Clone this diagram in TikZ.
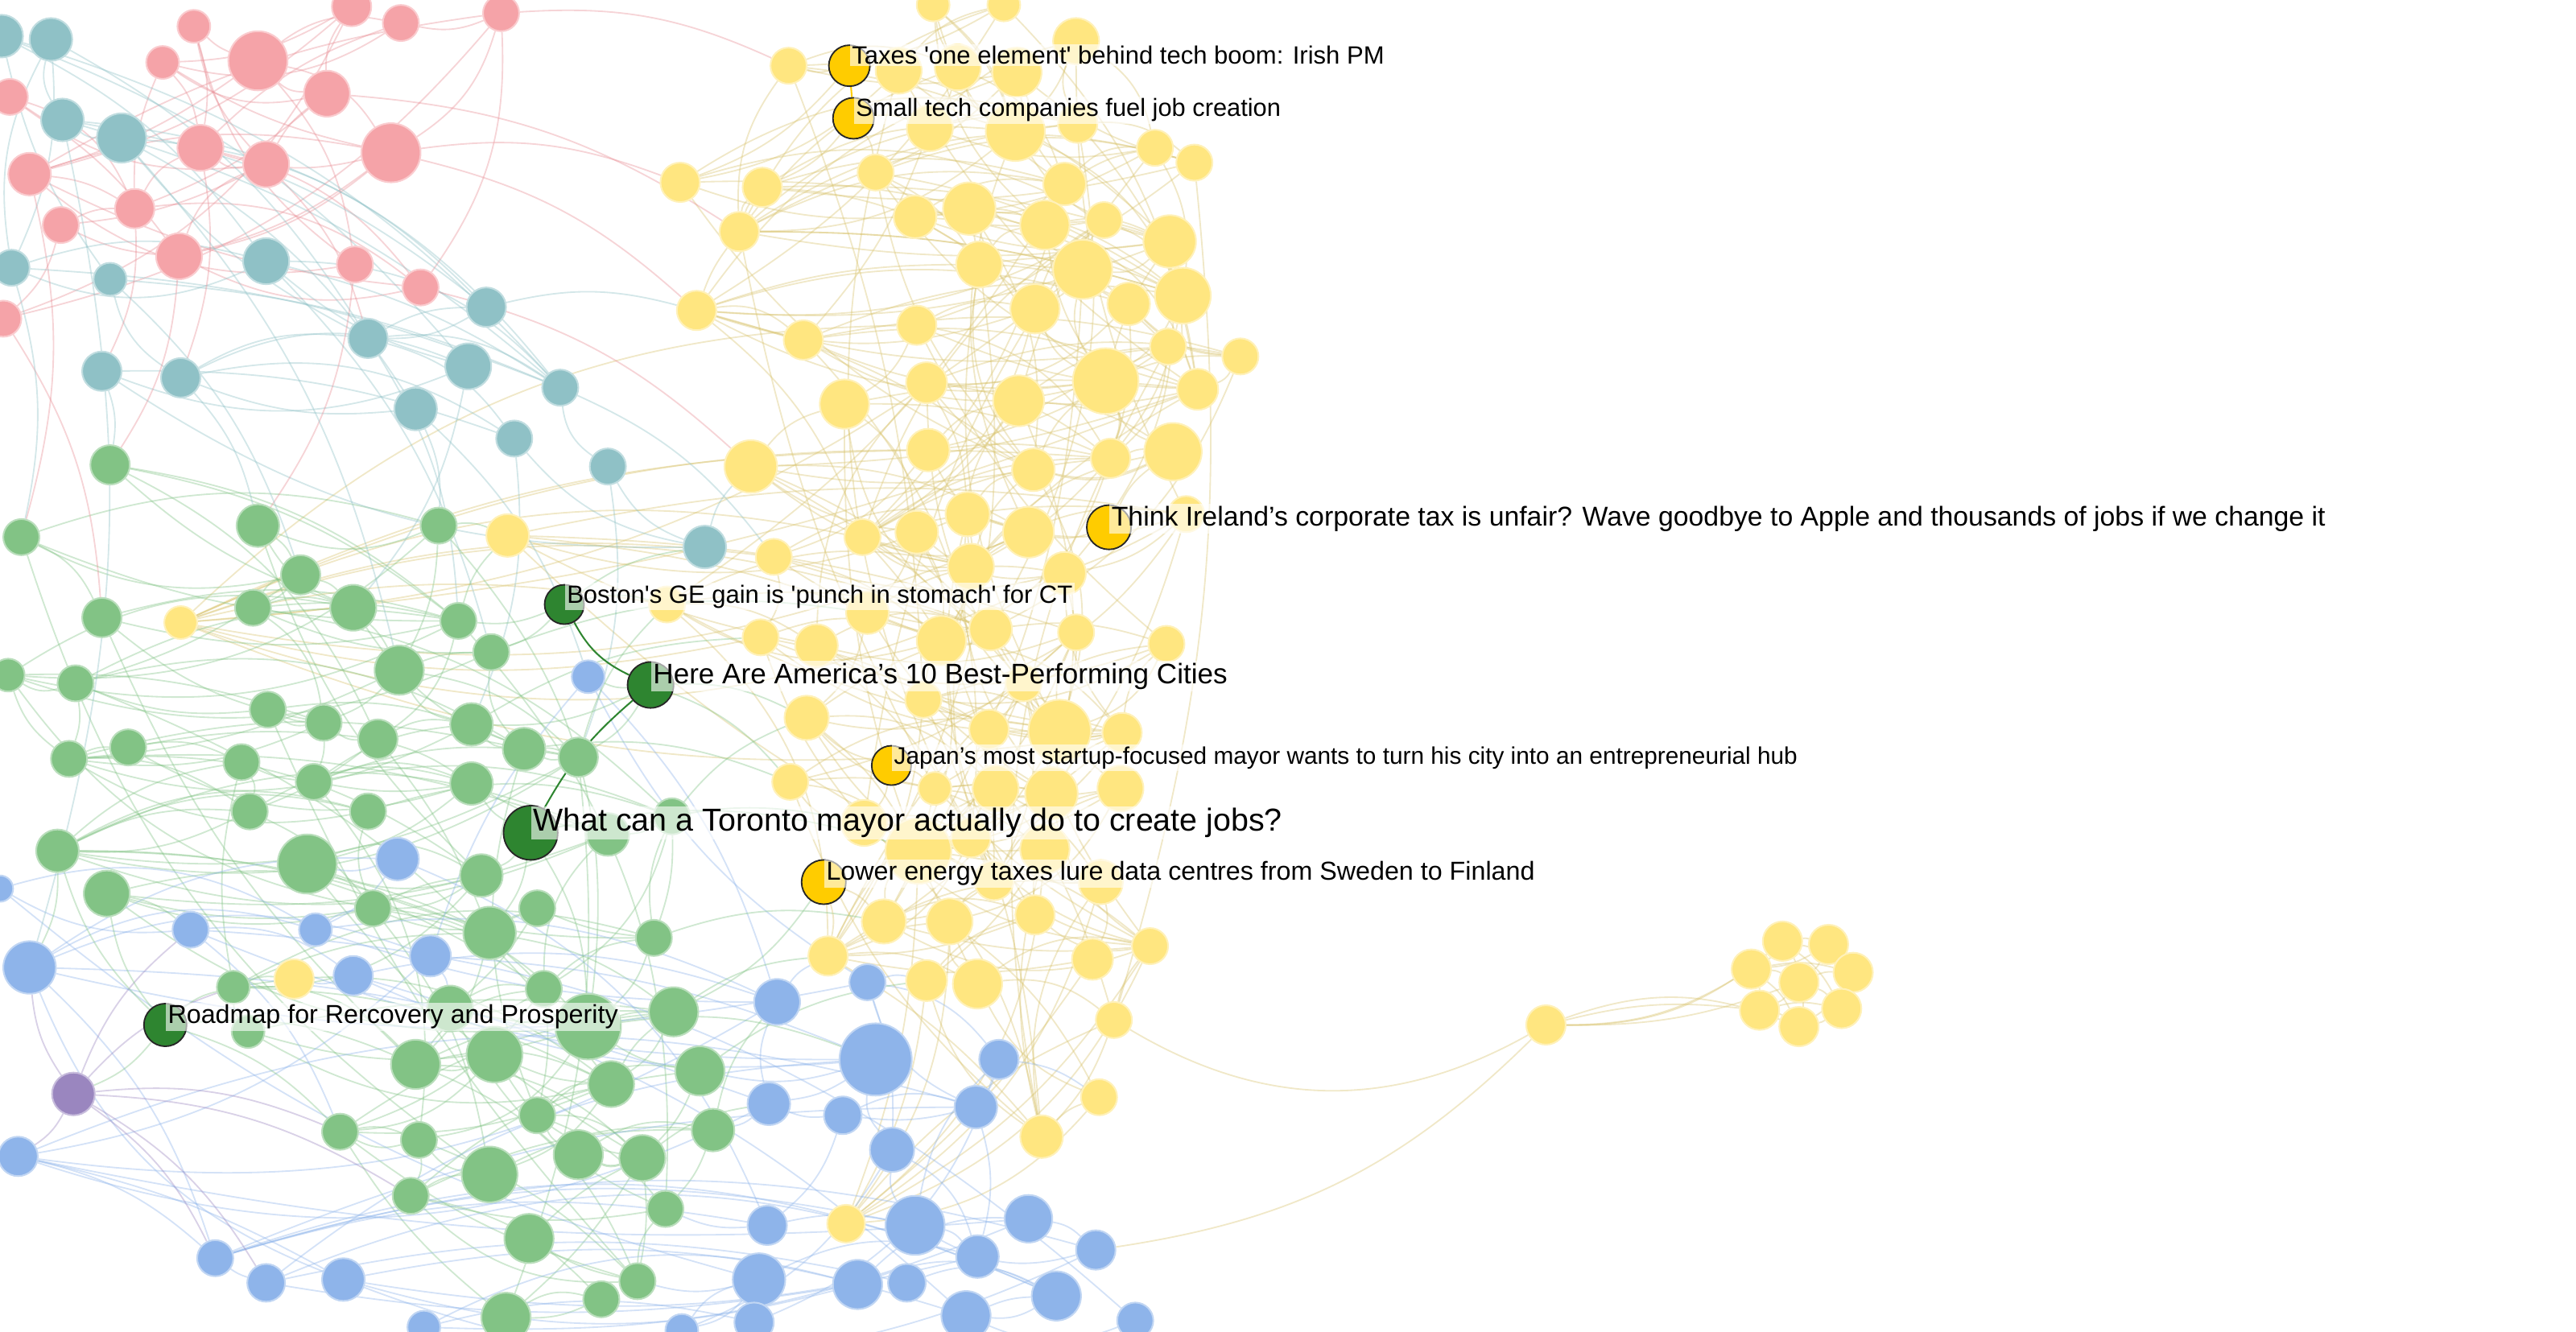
\documentclass[tikz,border=0pt]{standalone}
\usepackage{fontspec}
\setmainfont{Liberation Sans}[Ligatures=TeXOff]
\definecolor{pinkc}{HTML}{F5A3A8}
\definecolor{tealc}{HTML}{8FC1C6}
\definecolor{greenc}{HTML}{82C385}
\definecolor{bluec}{HTML}{8EB4EA}
\definecolor{yellowc}{HTML}{FFE680}
\definecolor{yedge}{HTML}{D8C36E}
\definecolor{pedge}{HTML}{E88E95}
\definecolor{purplec}{HTML}{9A86BF}
\definecolor{hgreen}{HTML}{2E8530}
\definecolor{hgold}{HTML}{FFCC00}
\pgfdeclarelayer{edgelayer}
\pgfdeclarelayer{labellayer}
\pgfsetlayers{edgelayer,main,labellayer}
\tikzset{
  nd/.style={circle, inner sep=0pt, fill=#1, draw=#1!55!white, line width=0.5pt},
  hl/.style={circle, inner sep=0pt, fill=#1, draw=black!85, line width=0.45pt},
  ed/.style={draw=#1, draw opacity=0.38, line width=0.45pt},
  hed/.style={draw=#1, line width=0.5pt},
  lab/.style={anchor=base west, yshift=0.5pt, fill=white, fill opacity=0.6, text opacity=1, inner sep=0.6pt, text=black},
}
\newcommand\cedges[6]{%
  \foreach \i in {1,...,#2}{%
    \pgfmathtruncatemacro\j{\i+1+mod(\i*#3+#4,#5)}%
    \pgfmathtruncatemacro\bb{(2*mod(\i+#4,2)-1)*(8+mod(\i*#3,17))}%
    \ifnum\j>#2\relax\else\draw[ed=#6] (#1\i) to[bend left=\bb] (#1\j);\fi}}
\begin{document}
\begin{tikzpicture}[x=0.5pt,y=-0.5pt]
\useasboundingbox (0,0) rectangle (1568,810.5);
% ---------------- pink cluster
\foreach \x/\y/\r [count=\n] in {118/16/10,214/4/12,244/14/11,305/8/11,99/38/10,157/37/18,199/57/14,238/93/18,122/90/14,162/100/14,18/106/13,6/59/11,82/127/12,37/137/11,109/156/14,216/161/11,256/175/11,2/194/11}
  \node[nd=pinkc, minimum size=\r pt] (P\n) at (\x,\y) {};
% ---------------- teal cluster
\foreach \x/\y/\r [count=\n] in {1/22/13,31/24/13,38/73/13,74/84/15,7/163/11,67/170/10,162/159/14,296/187/12,224/206/12,285/223/14,341/236/11,62/226/12,110/230/12,253/249/13,313/267/11,370/284/11,429/333/13}
  \node[nd=tealc, minimum size=\r pt] (T\n) at (\x,\y) {};
% ---------------- green cluster
\foreach \x/\y/\r [count=\n] in {67/283/12,157/320/13,267/320/11,13/327/11,183/350/12,215/370/14,154/370/11,62/376/12,279/378/11,299/397/11,243/408/15,5/411/10,46/416/11,163/432/11,197/440/11,287/441/13,230/450/12,319/456/13,352/461/12,78/455/11,42/462/11,147/464/11,191/476/11,287/477/13,152/494/11,224/494/11,35/518/13,187/526/18,293/533/13,370/508/13,409/497/11,65/544/14,227/553/11,327/553/11,298/568/16,398/571/11,142/601/10,274/614/14,331/602/11,151/628/10,358/625/20,410/616/15,253/648/15,301/642/17,372/660/14,426/652/15,327/679/11,207/689/11,255/694/11,352/703/15,391/705/14,434/688/13,298/715/17,250/728/11,405/736/11,322/754/15,388/780/11,366/791/11,308/802/15}
  \node[nd=greenc, minimum size=\r pt] (G\n) at (\x,\y) {};
% ---------------- blue cluster
\foreach \x/\y/\r [count=\n] in {358/412/10,242/523/13,0/541/8,116/566/11,192/566/10,262/582/12.5,18/589/16,215/594/12,473/610/14,528/598/11,533/645/22,608/645/12,468/672/13,513/679/11.5,594/674/13,543/700/13.5,11/704/12,467/746/12,557/746/18,626/742/14.5,595/765/13,667/761/12,131/766/11,162/781/11.5,209/779/13,462/779/16,522/782/15,552/781/11.5,643/789/15,258/808/10,415/810/10,459/805/12,588/801/15,691/804/11}
  \node[nd=bluec, minimum size=\r pt] (B\n) at (\x,\y) {};
\node[nd=purplec, minimum size=13pt] (Pu) at (44.7,666) {};
% ---------------- yellow cluster
\foreach \x/\y/\r [count=\n] in {568/3/10,611/3/10,655/25/14,480/40/11,547/43/14,583/41/14,619/44/15,566/78/14,618/80/18,656/75/12,703/90/11,727/99/11,414/111/12,464/114/12,533/105/11,648/112/13,450/141/12,590/127/16,557/132/13,636/137/15,672/134/11,712/147/16,596/161/14,659/164/18,720/180/17,630/188/15,687/185/13,424/189/12,558/198/12,489/207/12,711/211/11,755/217/11,673/232/20,729/237/12.5,564/233/12.5,620/244/15.5,514/246/15,714/275/17.5,565/274/13,629/286/13,676/279/12,457/284/16,589/313/13.5,626/324/15.5,558/324/13,525/327/11,471/339/11,722/313/11,591/345/14,648/349/13,309/326/13,110/379/10,528/373/13,406/368/11,463/388/11,497/393/13,573/390/15,603/383/13,655/385/11,710/392/11,491/437/13.5,562/426/11,602/444/12,645/445/19,683/446/12,623/416/11,481/476/11,569/480/10,606/480/14,640/483/16,682/480/14,526/501/14,559/518/20,591/510/12,636/517/15,605/536/12,670/537/13.5,538/561/13.5,578/561/14,630/557/12,700/576/11,504/582/12,564/597/12.5,595/599/15,665/584/12.5,678/621/11,669/668/11,634/692/13,515/745/11.5,179/596/12}
  \node[nd=yellowc, minimum size=\r pt] (Y\n) at (\x,\y) {};
% small right cluster
\foreach \x/\y [count=\n] in {941/624,1085/573,1113/575,1066/590,1095/598,1128/592,1071/615,1121/614,1095/625}
  \node[nd=yellowc, minimum size=12pt] (R\n) at (\x,\y) {};
% ---------------- highlighted nodes
\node[hl=hgreen, minimum size=12pt] (H1) at (343.5,368) {};
\node[hl=hgreen, minimum size=14pt] (H2) at (396,417) {};
\node[hl=hgreen, minimum size=16.5pt] (H3) at (323,507) {};
\node[hl=hgreen, minimum size=13pt] (H4) at (100.6,624) {};
\node[hl=hgold, minimum size=12.5pt] (K1) at (517,40) {};
\node[hl=hgold, minimum size=12.5pt] (K2) at (519.5,72) {};
\node[hl=hgold, minimum size=13.5pt] (K3) at (675,321) {};
\node[hl=hgold, minimum size=12pt] (K4) at (542.6,466) {};
\node[hl=hgold, minimum size=13.5pt] (K5) at (501.4,537) {};
% ---------------- edges
\begin{pgfonlayer}{edgelayer}
\cedges{Y}{89}{3}{1}{6}{yedge}
\cedges{Y}{89}{5}{2}{10}{yedge}
\cedges{Y}{89}{7}{0}{16}{yedge}
\cedges{Y}{89}{11}{3}{30}{yedge}
\cedges{Y}{89}{13}{5}{88}{yedge}
\cedges{G}{59}{3}{1}{5}{greenc}
\cedges{G}{59}{5}{2}{9}{greenc}
\cedges{G}{59}{7}{0}{14}{greenc}
\cedges{G}{59}{11}{4}{58}{greenc}
\cedges{B}{34}{3}{1}{5}{bluec}
\cedges{B}{34}{5}{2}{8}{bluec}
\cedges{B}{34}{7}{1}{33}{bluec}
\cedges{P}{18}{3}{1}{5}{pedge}
\cedges{P}{18}{5}{2}{8}{pedge}
\cedges{P}{18}{7}{1}{17}{pedge}
\cedges{P}{18}{11}{3}{17}{pedge}
\cedges{T}{17}{3}{1}{5}{tealc}
\cedges{T}{17}{5}{0}{8}{tealc}
\cedges{T}{17}{7}{2}{16}{tealc}
% right cluster
\foreach \a/\b in {2/3,2/4,2/5,2/6,3/5,3/6,3/8,4/5,4/7,4/9,5/6,5/7,5/8,5/9,6/8,7/9,8/9,7/8,3/4,2/8,4/6,6/9}
  \draw[ed=yedge] (R\a) to[bend left=12] (R\b);
\foreach \a/\b/\bb in {R1/R2/-20,R1/R4/-15,R1/R5/-10,R1/R7/10,R1/R9/20,R1/Y86/30,R1/B22/18}
  \draw[ed=yedge] (\a) to[bend left=\bb] (\b);
% cross-cluster edges
\foreach \a/\b/\c in {P8/Y13/pedge,P8/Y28/pedge,P4/Y4/pedge,P17/Y42/pedge,P7/Y17/pedge,P16/G2/pedge,P15/G1/pedge,P10/T9/pedge,P9/T13/pedge,P13/T12/pedge,P11/G4/pedge,P18/G8/pedge,
  T12/G1/tealc,T13/G2/tealc,T14/G3/tealc,T9/G9/tealc,T17/Y42/tealc,T16/G19/tealc,T15/G16/tealc,T10/G6/tealc,T5/G4/tealc,T6/G5/tealc,T8/Y28/tealc,T11/Y47/tealc,T4/G11/tealc,T3/B7/tealc,T7/G10/tealc,T14/B1/tealc,T2/T9/tealc,T1/T10/tealc,T4/T14/tealc,T3/T8/tealc,
  G30/Y72/greenc,G31/Y61/greenc,G42/Y82/greenc,G36/Y78/greenc,G19/Y54/greenc,G46/Y83/greenc,G52/B9/greenc,G41/B11/greenc,G51/B13/greenc,G27/B7/greenc,G32/B4/greenc,G37/Y90/greenc,G3/Y51/greenc,G10/Y53/greenc,G18/Y67/greenc,G9/Y51/greenc,G16/Y55/greenc,
  B9/Y82/bluec,B10/Y83/bluec,B12/Y87/bluec,B11/G46/bluec,B13/G52/bluec,B18/G55/bluec,B26/G57/bluec,B17/B23/bluec,B7/B23/bluec,B4/G48/bluec,B5/G33/bluec,B6/G38/bluec,B2/G28/bluec,B8/Y90/bluec,
  Pu/B17/purplec,Pu/B7/purplec,Pu/G48/purplec,Pu/B23/purplec,Pu/G37/purplec,Pu/B24/purplec,Pu/G54/purplec,Pu/B4/purplec}
  \draw[ed=\c] (\a) to[bend left=14] (\b);
% highlighted edges
\draw[hed=hgreen] (H1) to[bend right=18] (H2);
\draw[hed=hgreen] (H2) to[bend right=10] (H3);
\draw[hed=hgold] (K1) -- (K2);
\foreach \a/\b/\c in {H3/G29/greenc,H3/G30/greenc,H3/G35/greenc,H3/Y73/greenc,H3/G24/greenc,H3/G41/greenc,H2/Y61/greenc,H2/G16/greenc,H2/B1/greenc,H2/Y67/greenc,H2/G19/greenc,
  H1/G9/greenc,H1/T17/greenc,H1/Y54/greenc,H1/G10/greenc,H4/G37/greenc,H4/G32/greenc,H4/G27/greenc,H4/Pu/greenc,H4/G43/greenc,H4/G48/greenc,
  K1/Y5/yedge,K1/Y4/yedge,K1/Y13/yedge,K2/Y8/yedge,K2/Y14/yedge,K2/Y15/yedge,
  K3/Y44/yedge,K3/Y38/yedge,K3/Y48/yedge,K4/Y61/yedge,K4/Y68/yedge,K4/Y72/yedge,
  K5/Y78/yedge,K5/Y82/yedge,K5/G42/greenc}
  \draw[ed=\c] (\a) to[bend left=14] (\b);
\end{pgfonlayer}
% ---------------- labels
\begin{pgfonlayer}{labellayer}
\node[lab, font=\fontsize{7.6pt}{8pt}\selectfont] (L1) at (H1.center) {Boston's GE gain is 'punch in stomach' for CT};
\node[lab, font=\fontsize{8.6pt}{9pt}\selectfont] (L2) at (H2.center) {Here Are America’s 10 Best-Performing Cities};
\node[lab, font=\fontsize{9.65pt}{10pt}\selectfont] (L3) at (H3.center) {What can a Toronto mayor actually do to create jobs?};
\node[lab, font=\fontsize{7.9pt}{8pt}\selectfont] (L4) at (H4.center) {Roadmap for Rercovery and Prosperity};
\node[lab, font=\fontsize{7.6pt}{8pt}\selectfont] (L5) at (K1.center) {Taxes 'one element' behind tech boom: Irish PM};
\node[lab, font=\fontsize{7.55pt}{8pt}\selectfont] (L6) at (K2.center) {Small tech companies fuel job creation};
\node[lab, font=\fontsize{8.28pt}{9pt}\selectfont] (L7) at (K3.center) {Think Ireland’s corporate tax is unfair? Wave goodbye to Apple and thousands of jobs if we change it};
\node[lab, font=\fontsize{7.3pt}{8pt}\selectfont] (L8) at (K4.center) {Japan’s most startup-focused mayor wants to turn his city into an entrepreneurial hub};
\node[lab, font=\fontsize{7.9pt}{8pt}\selectfont] (L9) at (K5.center) {Lower energy taxes lure data centres from Sweden to Finland};
\end{pgfonlayer}
\end{tikzpicture}
\end{document}
